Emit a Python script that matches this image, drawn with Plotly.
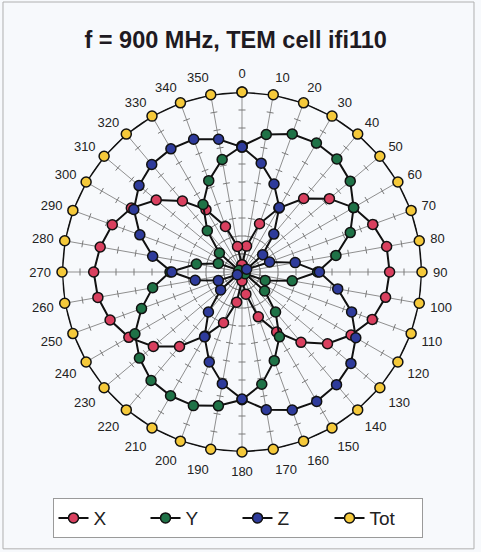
import plotly.graph_objects as go

# ---- data ----
angles = list(range(0, 360, 10))
angle_labels = [str(a) for a in angles]

x_vals = [0.04, 0.146, 0.285, 0.41, 0.533, 0.634, 0.716, 0.773, 0.816,
          0.82, 0.81, 0.77, 0.70, 0.62, 0.51, 0.385, 0.265, 0.125,
          0.05, 0.17, 0.30, 0.41, 0.54, 0.643, 0.726, 0.78, 0.813,
          0.824, 0.80, 0.767, 0.71, 0.622, 0.515, 0.40, 0.269, 0.144]

y_vals = [0.70, 0.776, 0.816, 0.827, 0.82, 0.785, 0.716, 0.64, 0.53,
          0.42, 0.283, 0.137, 0.02, 0.164, 0.29, 0.416, 0.524, 0.633,
          0.71, 0.755, 0.79, 0.794, 0.786, 0.744, 0.687, 0.594, 0.504,
          0.40, 0.257, 0.14, 0.02, 0.164, 0.30, 0.433, 0.54, 0.635]

z_vals = [0.694, 0.614, 0.52, 0.414, 0.275, 0.15, 0.03, 0.163, 0.30,
          0.43, 0.54, 0.648, 0.73, 0.79, 0.817, 0.83, 0.816, 0.777,
          0.706, 0.63, 0.532, 0.416, 0.29, 0.155, 0.03, 0.14, 0.264,
          0.39, 0.504, 0.604, 0.694, 0.747, 0.78, 0.79, 0.785, 0.749]

tot_vals = [1.0, 1.0, 1.0, 1.0, 1.0, 1.0, 1.0, 1.0, 1.0,
            1.0, 1.0, 1.0, 1.0, 1.0, 1.0, 1.0, 1.0, 1.0,
            1.0, 1.0, 1.0, 1.0, 1.0, 1.0, 1.0, 1.0, 1.0,
            1.0, 1.0, 1.0, 1.0, 1.0, 1.0, 1.0, 1.0, 1.0]

series_names = ["X", "Y", "Z", "Tot"]
series_colors = ["#d9405f", "#1f7247", "#2e3b9b", "#f5c93a"]
radial_ticks = [0.1, 0.2, 0.3, 0.4, 0.5, 0.6, 0.7, 0.8, 0.9]

title_text = "f = 900 MHz, TEM cell ifi110"

# ---- figure ----
fig = go.Figure()

# small cross-ticks on every spoke
tick_r, tick_t = [], []
for a in angles:
    for r in radial_ticks:
        tick_r.append(r)
        tick_t.append(a)
fig.add_trace(go.Scatterpolar(
    r=tick_r, theta=tick_t, mode="markers", showlegend=False, hoverinfo="skip",
    marker=dict(symbol="line-ew", size=5, angle=tick_t,
                line=dict(color="#7a7a7a", width=1)),
))

for name, vals, col in zip(series_names, [x_vals, y_vals, z_vals, tot_vals], series_colors):
    fig.add_trace(go.Scatterpolar(
        r=vals + vals[:1], theta=angles + angles[:1], name=name,
        mode="lines+markers", cliponaxis=False,
        line=dict(color="#111111", width=2),
        marker=dict(size=10, color=col, line=dict(color="#111111", width=1.5)),
    ))

bg = "#f7f9fc"
fig.update_layout(
    width=481, height=552,
    margin=dict(l=10, r=10, t=92, b=100, autoexpand=False),
    paper_bgcolor=bg, plot_bgcolor=bg,
    font=dict(family="Liberation Sans, Arial, sans-serif", color="#222222"),
    title=dict(text="<b>" + title_text + "</b>", x=0.49, xanchor="center",
               y=0.928, yanchor="middle",
               font=dict(size=23.5, color="#1e1a22", family="Liberation Sans, Arial, sans-serif")),
    polar=dict(
        bgcolor=bg,
        domain=dict(x=[0.1128, 0.8937], y=[0, 1]),
        radialaxis=dict(range=[0, 1.0], showgrid=False, showticklabels=False,
                        ticks="", showline=False),
        angularaxis=dict(direction="clockwise", rotation=90,
                         tickmode="array", tickvals=angles, ticktext=angle_labels,
                         showline=False, ticks="outside", ticklen=8,
                         tickcolor="rgba(0,0,0,0)",
                         gridcolor="#8f8f8f", gridwidth=1,
                         tickfont=dict(size=13, color="#222222")),
    ),
    legend=dict(orientation="h", x=0.4935, xanchor="center", y=-0.128, yanchor="top",
                bgcolor="#ffffff", bordercolor="#9a9a9a", borderwidth=1,
                entrywidth=47, entrywidthmode="pixels",
                font=dict(size=19, color="#222222")),
    shapes=[dict(type="rect", xref="paper", yref="paper",
                 x0=-0.0152, x1=1.0065, y0=-0.269, y1=1.25,
                 line=dict(color="#b0b0b0", width=1), fillcolor="rgba(0,0,0,0)",
                 layer="below")],
)

fig.write_html("out.html", config={"displayModeBar": False},
               post_script="document.body.style.margin='0px';")
